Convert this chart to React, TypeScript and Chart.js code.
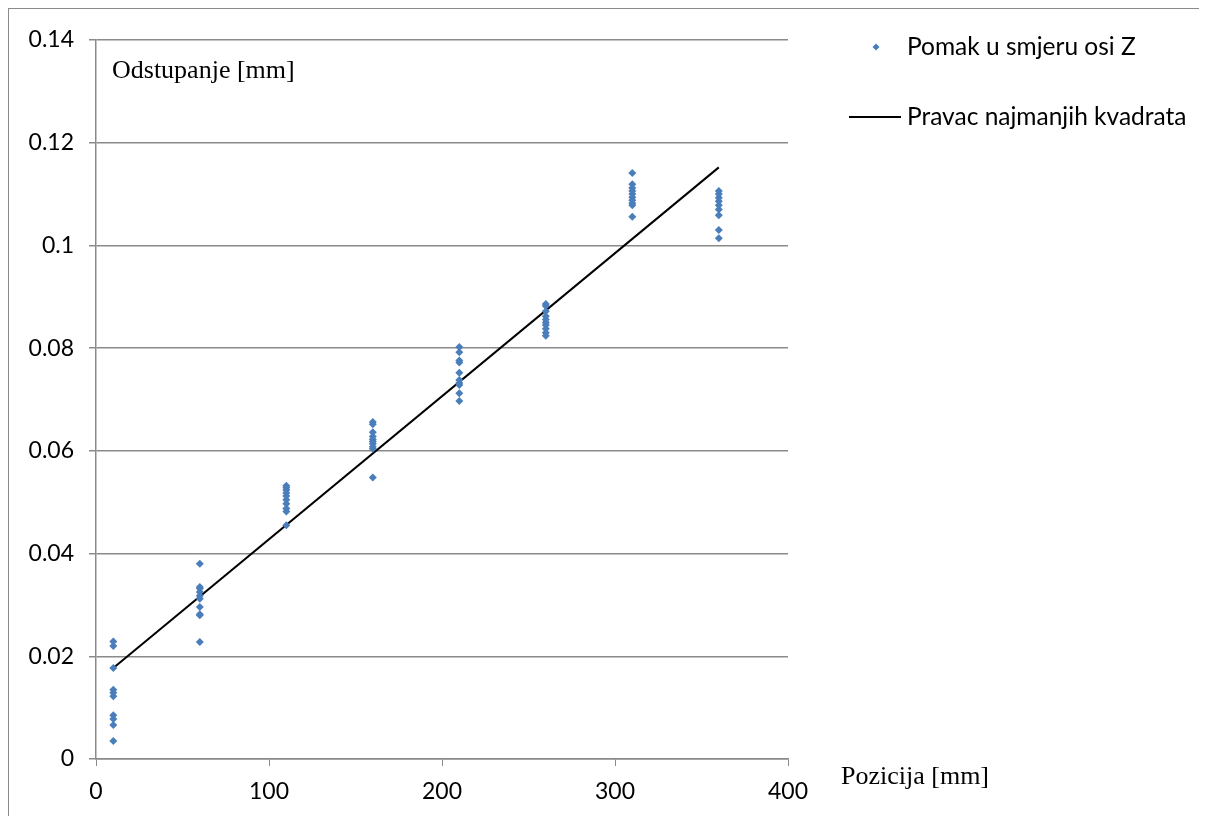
import React, { useEffect, useRef } from "react";
import { Chart, registerables } from "chart.js";
Chart.register(...registerables);

const positions = [10, 60, 110, 160, 210, 260, 310, 360];
const dev10 = [0.0229, 0.022, 0.0177, 0.0135, 0.0129, 0.0122, 0.0085, 0.0078, 0.0066, 0.0035];
const dev60 = [0.038, 0.0335, 0.0332, 0.0325, 0.0318, 0.0312, 0.0296, 0.0282, 0.028, 0.0228];
const dev110 = [0.0532, 0.0528, 0.0524, 0.0518, 0.0512, 0.0505, 0.0497, 0.0488, 0.0482, 0.0455];
const dev160 = [0.0656, 0.0652, 0.0636, 0.0628, 0.0622, 0.0618, 0.0614, 0.0608, 0.0604, 0.0548];
const dev210 = [0.0802, 0.0792, 0.0776, 0.0772, 0.0752, 0.0738, 0.0732, 0.0728, 0.0712, 0.0697];
const dev260 = [0.0886, 0.0882, 0.0872, 0.0862, 0.0856, 0.085, 0.0845, 0.0838, 0.083, 0.0824];
const dev310 = [0.1141, 0.1119, 0.1112, 0.1106, 0.11, 0.1094, 0.1088, 0.1082, 0.1078, 0.1056];
const dev360 = [0.1106, 0.11, 0.1093, 0.1086, 0.1078, 0.107, 0.1059, 0.103, 0.1014];
const deviations = [dev10, dev60, dev110, dev160, dev210, dev260, dev310, dev360];

const trendX = [10, 360];
const trendY = [0.0177, 0.1152];

const seriesNames = ["Pomak u smjeru osi Z", "Pravac najmanjih kvadrata"];
const yAxisTitle = "Odstupanje [mm]";
const xAxisTitle = "Pozicija [mm]";

const BLUE = "#4a7ebb";
const GRID = "#8a8a8a";
const TICK_FONT = "Lato";

export default function App() {
  const ref = useRef<HTMLCanvasElement>(null);
  useEffect(() => {
    document.documentElement.style.overflow = "hidden";
    document.body.style.overflow = "hidden";
    const scatterPts: { x: number; y: number }[] = [];
    positions.forEach((p, i) => deviations[i].forEach((v) => scatterPts.push({ x: p, y: v })));
    const linePts = trendX.map((x, i) => ({ x, y: trendY[i] }));

    const overlay = {
      id: "overlay",
      afterDraw(chart: any) {
        const ctx = chart.ctx;
        ctx.save();
        ctx.fillStyle = "#000";
        ctx.textBaseline = "alphabetic";
        ctx.font = "26px 'Liberation Serif'";
        ctx.fillText(yAxisTitle, 103, 69);
        ctx.fillText(xAxisTitle, 832, 775);
        // legend
        ctx.font = `24.5px ${TICK_FONT}`;
        ctx.textBaseline = "middle";
        ctx.fillStyle = BLUE;
        ctx.beginPath();
        const mx = 867, my = 38, r = 3.5;
        ctx.moveTo(mx, my - r);
        ctx.lineTo(mx + r, my);
        ctx.lineTo(mx, my + r);
        ctx.lineTo(mx - r, my);
        ctx.closePath();
        ctx.fill();
        ctx.fillStyle = "#000";
        ctx.fillText(seriesNames[0], 898, 38);
        ctx.strokeStyle = "#000";
        ctx.lineWidth = 2;
        ctx.beginPath();
        ctx.moveTo(840, 108);
        ctx.lineTo(892, 108);
        ctx.stroke();
        ctx.fillText(seriesNames[1], 898, 108);
        ctx.restore();
      },
    };

    const chart = new Chart(ref.current!, {
      type: "scatter",
      data: {
        datasets: [
          {
            label: seriesNames[0],
            data: scatterPts,
            pointStyle: "rectRot",
            pointRadius: 4,
            backgroundColor: BLUE,
            borderColor: BLUE,
            borderWidth: 0,
          },
          {
            label: seriesNames[1],
            type: "line",
            data: linePts,
            borderColor: "#000",
            borderWidth: 2,
            pointRadius: 0,
            showLine: true,
            fill: false,
          } as any,
        ],
      },
      options: {
        responsive: false,
        animation: false,
        layout: { padding: { left: 0, top: 31, right: 411, bottom: 0 } },
        plugins: { legend: { display: false }, tooltip: { enabled: false } },
        scales: {
          x: {
            type: "linear",
            min: 0,
            max: 400,
            ticks: { stepSize: 100, color: "#000", font: { family: TICK_FONT, size: 23 }, padding: 12 },
            grid: { drawOnChartArea: false, drawTicks: true, tickLength: 7, color: GRID, lineWidth: 1 },
            border: { display: true, color: GRID, width: 1.5 },
            afterFit: (s: any) => { s.height = 57; },
          },
          y: {
            type: "linear",
            min: 0,
            max: 0.14,
            ticks: {
              stepSize: 0.02,
              color: "#000",
              font: { family: TICK_FONT, size: 23 },
              padding: 15,
              callback: (v: any) => String(parseFloat(Number(v).toFixed(2))),
            },
            grid: { drawOnChartArea: true, drawTicks: true, tickLength: 7, color: GRID, lineWidth: 1.5 },
            border: { display: true, color: GRID, width: 1.5 },
            afterFit: (s: any) => { s.width = 87; },
          },
        },
      },
      plugins: [overlay],
    });
    return () => chart.destroy();
  }, []);
  return (
    <div style={{ borderTop: "1px solid #8a8a8a", borderLeft: "1px solid #8a8a8a", width: 1190, height: 807 }}>
      <canvas ref={ref} width={1190} height={807} style={{ display: "block" }} />
    </div>
  );
}
